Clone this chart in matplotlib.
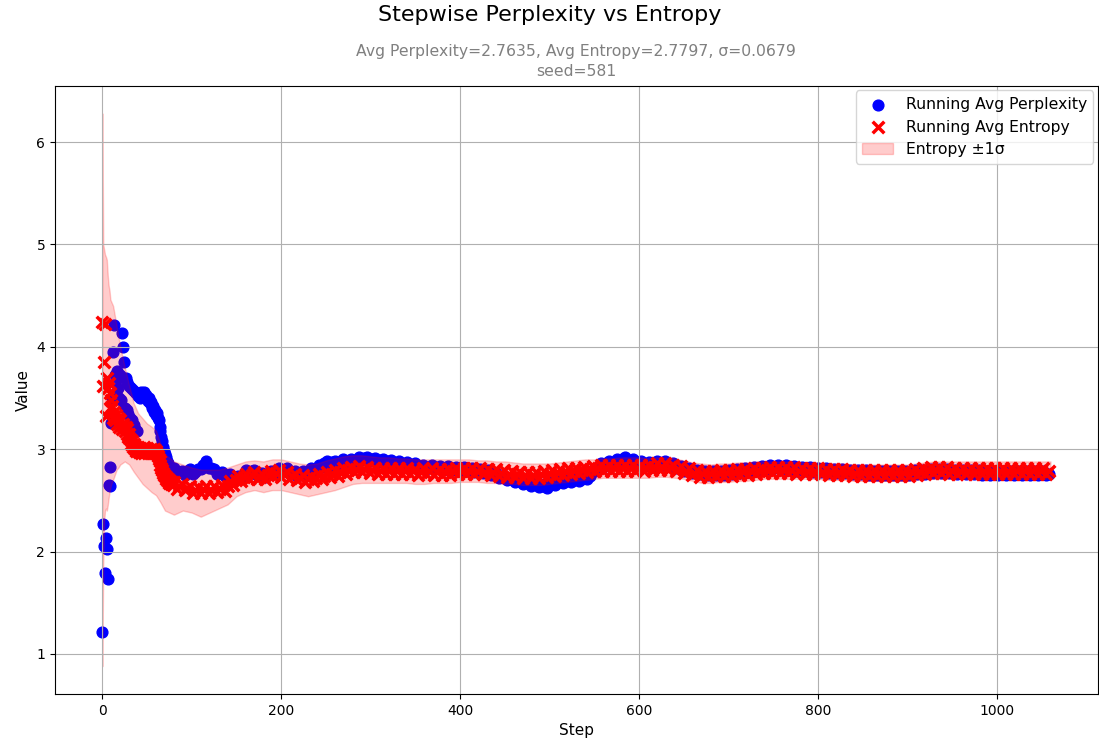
import numpy as np
import matplotlib
matplotlib.use("Agg")
import matplotlib.pyplot as plt

# running averages logged per step: every step up to 79, then every 3rd step
early_steps = list(range(80))
late_steps = list(range(80, 1061, 3))
steps = early_steps + late_steps

perplexity = [
    # steps 0-79
    1.21, 2.27, 2.05, 1.79, 2.13, 2.02, 1.73, 2.65, 2.64, 2.83,
    3.26, 3.50, 3.95, 4.21, 3.72, 3.55, 3.76, 3.60, 3.70, 3.50,
    3.72, 3.48, 4.13, 4.00, 3.85, 3.40, 3.70, 3.38, 3.66, 3.34,
    3.62, 3.30, 3.60, 3.28, 3.58, 3.24, 3.56, 3.20, 3.55, 3.18,
    3.52, 3.55, 3.50, 3.56, 3.52, 3.55, 3.53, 3.56, 3.50, 3.53,
    3.50, 3.47, 3.50, 3.45, 3.46, 3.42, 3.40, 3.42, 3.36, 3.38,
    3.33, 3.35, 3.30, 3.28, 3.22, 3.18, 3.12, 3.08, 3.02, 2.98,
    2.95, 2.92, 2.88, 2.86, 2.84, 2.82, 2.83, 2.80, 2.82, 2.79,
    # steps 80-1058, every 3
    2.82, 2.77, 2.78, 2.79, 2.75, 2.79, 2.81, 2.76, 2.78, 2.81,
    2.81, 2.85, 2.88, 2.82, 2.82, 2.81, 2.76, 2.77, 2.78, 2.74,
    2.75, 2.76, 2.71, 2.72, 2.74, 2.72, 2.76, 2.80, 2.77, 2.79,
    2.80, 2.75, 2.76, 2.77, 2.73, 2.76, 2.79, 2.76, 2.79, 2.82,
    2.79, 2.80, 2.82, 2.77, 2.78, 2.79, 2.74, 2.76, 2.79, 2.75,
    2.79, 2.82, 2.78, 2.81, 2.85, 2.83, 2.86, 2.88, 2.84, 2.87,
    2.88, 2.85, 2.87, 2.90, 2.86, 2.88, 2.90, 2.87, 2.89, 2.92,
    2.89, 2.91, 2.92, 2.88, 2.90, 2.91, 2.87, 2.89, 2.90, 2.86,
    2.88, 2.89, 2.85, 2.86, 2.88, 2.84, 2.85, 2.87, 2.83, 2.84,
    2.86, 2.82, 2.84, 2.85, 2.81, 2.83, 2.85, 2.81, 2.82, 2.84,
    2.80, 2.82, 2.84, 2.79, 2.81, 2.83, 2.79, 2.81, 2.83, 2.79,
    2.80, 2.82, 2.78, 2.79, 2.81, 2.77, 2.78, 2.80, 2.75, 2.76,
    2.77, 2.72, 2.73, 2.74, 2.70, 2.71, 2.72, 2.68, 2.69, 2.71,
    2.66, 2.67, 2.69, 2.64, 2.66, 2.67, 2.63, 2.64, 2.66, 2.62,
    2.65, 2.68, 2.65, 2.68, 2.70, 2.67, 2.69, 2.71, 2.68, 2.70,
    2.72, 2.69, 2.71, 2.74, 2.71, 2.74, 2.80, 2.79, 2.83, 2.86,
    2.83, 2.86, 2.88, 2.85, 2.87, 2.90, 2.87, 2.90, 2.92, 2.87,
    2.88, 2.90, 2.85, 2.87, 2.88, 2.84, 2.85, 2.87, 2.83, 2.86,
    2.88, 2.84, 2.86, 2.88, 2.84, 2.85, 2.86, 2.82, 2.83, 2.84,
    2.79, 2.80, 2.82, 2.77, 2.79, 2.80, 2.76, 2.78, 2.79, 2.75,
    2.77, 2.79, 2.75, 2.77, 2.79, 2.75, 2.77, 2.80, 2.76, 2.78,
    2.81, 2.77, 2.80, 2.82, 2.78, 2.81, 2.83, 2.79, 2.82, 2.84,
    2.80, 2.82, 2.85, 2.81, 2.83, 2.85, 2.81, 2.83, 2.85, 2.80,
    2.82, 2.84, 2.79, 2.81, 2.83, 2.79, 2.81, 2.83, 2.78, 2.80,
    2.82, 2.78, 2.80, 2.82, 2.77, 2.79, 2.81, 2.77, 2.79, 2.81,
    2.77, 2.78, 2.80, 2.76, 2.78, 2.80, 2.76, 2.78, 2.80, 2.75,
    2.77, 2.79, 2.75, 2.77, 2.79, 2.75, 2.77, 2.79, 2.75, 2.77,
    2.79, 2.75, 2.77, 2.79, 2.75, 2.78, 2.80, 2.76, 2.78, 2.80,
    2.76, 2.79, 2.81, 2.77, 2.79, 2.81, 2.77, 2.79, 2.81, 2.77,
    2.78, 2.80, 2.76, 2.78, 2.80, 2.76, 2.78, 2.80, 2.76, 2.78,
    2.80, 2.75, 2.77, 2.79, 2.75, 2.77, 2.79, 2.75, 2.77, 2.79,
    2.75, 2.77, 2.79, 2.75, 2.77, 2.79, 2.75, 2.77, 2.79, 2.75,
    2.77, 2.79, 2.75, 2.77, 2.79, 2.75, 2.76,
]

entropy = [
    # steps 0-79
    4.24, 3.62, 3.85, 4.22, 3.32, 3.70, 3.60, 3.65, 3.40, 3.55,
    3.48, 3.42, 3.30, 3.36, 3.28, 3.33, 3.25, 3.30, 3.26, 3.22,
    3.28, 3.24, 3.20, 3.25, 3.22, 3.18, 3.22, 3.15, 3.20, 3.12,
    3.15, 3.10, 3.05, 3.08, 3.02, 3.05, 3.00, 3.03, 2.98, 3.00,
    3.02, 2.97, 3.01, 2.96, 3.00, 2.98, 3.02, 2.96, 3.00, 2.97,
    3.01, 2.96, 2.99, 2.97, 3.00, 2.96, 2.99, 2.97, 3.00, 2.96,
    2.98, 2.95, 2.93, 2.90, 2.88, 2.85, 2.82, 2.80, 2.77, 2.75,
    2.74, 2.71, 2.72, 2.69, 2.70, 2.67, 2.69, 2.66, 2.68, 2.65,
    # steps 80-1058, every 3
    2.68, 2.61, 2.64, 2.66, 2.60, 2.62, 2.64, 2.57, 2.60, 2.63,
    2.57, 2.61, 2.64, 2.57, 2.60, 2.64, 2.58, 2.61, 2.65, 2.59,
    2.64, 2.69, 2.65, 2.70, 2.74, 2.69, 2.73, 2.76, 2.71, 2.75,
    2.78, 2.71, 2.73, 2.76, 2.71, 2.75, 2.79, 2.74, 2.77, 2.80,
    2.73, 2.76, 2.78, 2.71, 2.74, 2.76, 2.70, 2.72, 2.75, 2.68,
    2.71, 2.74, 2.69, 2.72, 2.76, 2.71, 2.74, 2.78, 2.73, 2.76,
    2.80, 2.74, 2.78, 2.82, 2.76, 2.80, 2.83, 2.78, 2.81, 2.84,
    2.78, 2.81, 2.83, 2.77, 2.80, 2.82, 2.76, 2.79, 2.82, 2.76,
    2.79, 2.82, 2.76, 2.79, 2.82, 2.76, 2.79, 2.82, 2.76, 2.79,
    2.81, 2.75, 2.78, 2.82, 2.76, 2.79, 2.82, 2.75, 2.78, 2.81,
    2.75, 2.78, 2.81, 2.75, 2.79, 2.82, 2.76, 2.79, 2.82, 2.76,
    2.79, 2.82, 2.76, 2.79, 2.82, 2.76, 2.78, 2.81, 2.75, 2.78,
    2.81, 2.74, 2.77, 2.80, 2.73, 2.76, 2.79, 2.73, 2.76, 2.78,
    2.72, 2.75, 2.78, 2.72, 2.75, 2.78, 2.72, 2.75, 2.79, 2.73,
    2.76, 2.80, 2.74, 2.77, 2.81, 2.75, 2.78, 2.82, 2.76, 2.79,
    2.82, 2.77, 2.80, 2.83, 2.78, 2.81, 2.84, 2.79, 2.82, 2.85,
    2.79, 2.82, 2.85, 2.79, 2.82, 2.85, 2.79, 2.82, 2.85, 2.79,
    2.82, 2.85, 2.79, 2.82, 2.85, 2.79, 2.82, 2.85, 2.80, 2.83,
    2.86, 2.80, 2.83, 2.86, 2.80, 2.83, 2.85, 2.79, 2.81, 2.84,
    2.77, 2.79, 2.82, 2.75, 2.77, 2.80, 2.73, 2.76, 2.79, 2.73,
    2.76, 2.79, 2.74, 2.77, 2.80, 2.74, 2.77, 2.80, 2.74, 2.77,
    2.81, 2.75, 2.78, 2.81, 2.75, 2.79, 2.82, 2.76, 2.79, 2.82,
    2.77, 2.80, 2.83, 2.77, 2.80, 2.83, 2.77, 2.80, 2.83, 2.77,
    2.80, 2.83, 2.76, 2.79, 2.82, 2.76, 2.79, 2.82, 2.76, 2.79,
    2.82, 2.76, 2.78, 2.81, 2.75, 2.78, 2.81, 2.75, 2.78, 2.81,
    2.75, 2.78, 2.80, 2.74, 2.77, 2.80, 2.74, 2.77, 2.80, 2.74,
    2.77, 2.80, 2.74, 2.77, 2.80, 2.74, 2.77, 2.80, 2.74, 2.77,
    2.80, 2.74, 2.77, 2.80, 2.74, 2.78, 2.81, 2.75, 2.78, 2.82,
    2.76, 2.80, 2.83, 2.77, 2.80, 2.83, 2.77, 2.80, 2.83, 2.76,
    2.79, 2.82, 2.76, 2.79, 2.82, 2.76, 2.79, 2.82, 2.76, 2.79,
    2.82, 2.76, 2.79, 2.82, 2.76, 2.79, 2.82, 2.76, 2.79, 2.82,
    2.76, 2.79, 2.82, 2.76, 2.79, 2.82, 2.76, 2.79, 2.82, 2.76,
    2.79, 2.82, 2.76, 2.79, 2.82, 2.76, 2.79,
]

# entropy +/- 1 sigma envelope
band_steps = [0, 1, 2, 3, 4, 5, 6, 7, 8, 9, 10, 12, 14, 16, 18, 20,
              25, 30, 35, 40, 45, 50, 55, 60, 65, 70] + list(range(80, 1061, 10))

band_hi = [
    6.28, 5.00, 4.95, 4.90, 4.88, 4.85, 4.70, 4.60, 4.55, 4.46,
    4.44, 4.40, 4.30, 4.20, 4.10, 4.00, 3.80, 3.62, 3.45, 3.35,
    3.30, 3.25, 3.22, 3.18, 3.05, 2.95,
    2.88, 2.85, 2.82, 2.80, 2.80, 2.80, 2.82, 2.85, 2.88, 2.89,
    2.88, 2.90, 2.90, 2.88, 2.86, 2.85, 2.86, 2.89, 2.91, 2.93,
    2.94, 2.94, 2.93, 2.92, 2.92, 2.91, 2.91, 2.90, 2.90, 2.90,
    2.90, 2.90, 2.90, 2.90, 2.89, 2.89, 2.88, 2.88, 2.87, 2.86,
    2.86, 2.86, 2.86, 2.87, 2.88, 2.89, 2.90, 2.90, 2.91, 2.91,
    2.92, 2.92, 2.92, 2.91, 2.92, 2.92, 2.91, 2.89, 2.87, 2.86,
    2.85, 2.86, 2.86, 2.87, 2.87, 2.88, 2.88, 2.88, 2.88, 2.88,
    2.87, 2.87, 2.87, 2.86, 2.86, 2.86, 2.85, 2.85, 2.85, 2.85,
    2.85, 2.85, 2.85, 2.86, 2.87, 2.88, 2.88, 2.88, 2.88, 2.88,
    2.88, 2.88, 2.88, 2.88, 2.88, 2.88, 2.88, 2.88, 2.88,
]

band_lo = [
    0.88, 1.90, 2.30, 2.40, 2.42, 2.40, 2.45, 2.52, 2.58, 2.62,
    2.66, 2.70, 2.75, 2.80, 2.82, 2.85, 2.88, 2.85, 2.78, 2.72,
    2.66, 2.62, 2.58, 2.55, 2.48, 2.40,
    2.36, 2.40, 2.38, 2.34, 2.38, 2.42, 2.46, 2.54, 2.58, 2.60,
    2.58, 2.60, 2.60, 2.58, 2.56, 2.54, 2.56, 2.58, 2.60, 2.63,
    2.66, 2.67, 2.67, 2.67, 2.67, 2.67, 2.67, 2.66, 2.66, 2.67,
    2.67, 2.67, 2.68, 2.68, 2.68, 2.67, 2.67, 2.66, 2.66, 2.65,
    2.65, 2.65, 2.66, 2.67, 2.68, 2.69, 2.70, 2.71, 2.72, 2.72,
    2.72, 2.72, 2.72, 2.72, 2.73, 2.73, 2.72, 2.71, 2.69, 2.67,
    2.67, 2.68, 2.68, 2.69, 2.69, 2.70, 2.71, 2.71, 2.71, 2.71,
    2.71, 2.71, 2.71, 2.70, 2.70, 2.70, 2.69, 2.69, 2.69, 2.69,
    2.69, 2.69, 2.69, 2.70, 2.71, 2.71, 2.71, 2.71, 2.71, 2.71,
    2.71, 2.71, 2.71, 2.71, 2.71, 2.71, 2.71, 2.71, 2.71,
]

avg_ppl = 2.7635
avg_ent = 2.7797
sigma = 0.0679
seed = 581

fig, ax = plt.subplots(figsize=(10.99, 7.46), dpi=100)
fig.subplots_adjust(left=0.050, right=0.999, top=0.885, bottom=0.070)

ax.scatter(steps, perplexity, s=60, color='blue', label='Running Avg Perplexity')
ax.scatter(steps, entropy, s=70, marker='x', color='red', linewidths=2.5,
           label='Running Avg Entropy')
# band drawn last so it tints the markers underneath
ax.fill_between(band_steps, band_lo, band_hi, color='red', alpha=0.2,
                label='Entropy ±1σ')

fig.suptitle('Stepwise Perplexity vs Entropy', fontsize=16, y=0.993)
ax.set_title(f'Avg Perplexity={avg_ppl:.4f}, Avg Entropy={avg_ent:.4f}, σ={sigma:.4f}\nseed={seed}',
             fontsize=11.25, color='gray', linespacing=1.4, pad=7)
ax.set_xlabel('Step', fontsize=11)
ax.set_ylabel('Value', fontsize=11)
ax.grid(True)
ax.legend(loc='upper right', fontsize=11.25, borderaxespad=0.3)

plt.savefig('out.png')
